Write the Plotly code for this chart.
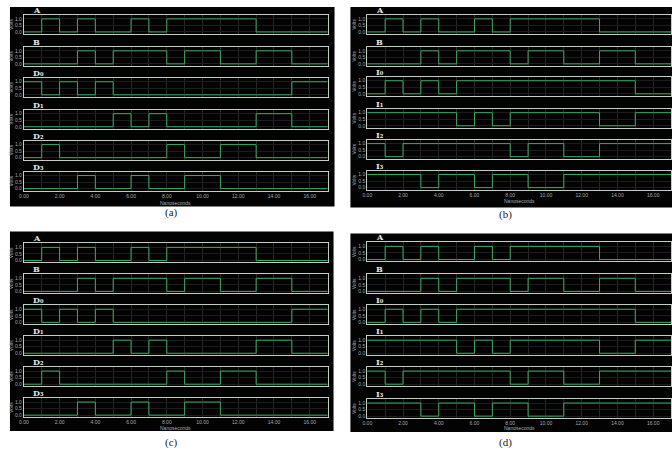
import plotly.graph_objects as go

# time boundaries (ns) of each 1-ns interval
time_ns = list(range(18))
x_ticks = [0, 2, 4, 6, 8, 10, 12, 14, 16]
x_tick_labels = ["0.00", "2.00", "4.00", "6.00", "8.00", "10.00", "12.00", "14.00", "16.00"]
y_ticks = [0, 0.5, 1.0]
y_tick_labels = ["0.0", "0.5", "1.0"]

# logic levels per 1-ns interval (0-1, 1-2, ..., 16-17)
A_bits = [0, 1, 0, 1, 0, 0, 1, 0, 1, 1, 1, 1, 1, 0, 0, 0, 0]
B_bits = [0, 0, 0, 1, 0, 1, 1, 1, 0, 1, 1, 0, 0, 1, 1, 0, 0]
D0_bits = [1, 0, 1, 0, 1, 0, 0, 0, 0, 0, 0, 0, 0, 0, 0, 1, 1]
D1_bits = [0, 0, 0, 0, 0, 1, 0, 1, 0, 0, 0, 0, 0, 1, 1, 0, 0]
D2_bits = [0, 1, 0, 0, 0, 0, 0, 0, 1, 0, 0, 1, 1, 0, 0, 0, 0]
D3_bits = [0, 0, 0, 1, 0, 0, 1, 0, 0, 1, 1, 0, 0, 0, 0, 0, 0]
I0_bits = [0, 1, 0, 1, 0, 1, 1, 1, 1, 1, 1, 1, 1, 1, 1, 0, 0]
I1_bits = [1, 1, 1, 1, 1, 0, 1, 0, 1, 1, 1, 1, 1, 0, 0, 1, 1]
I2_bits = [1, 0, 1, 1, 1, 1, 1, 1, 0, 1, 1, 0, 0, 1, 1, 1, 1]
I3_bits = [1, 1, 1, 0, 1, 1, 0, 1, 1, 0, 0, 1, 1, 1, 1, 1, 1]

labels_D = ["A", "B", "D₀", "D₁", "D₂", "D₃"]
labels_I = ["A", "B", "I₀", "I₁", "I₂", "I₃"]
series_D = [A_bits, B_bits, D0_bits, D1_bits, D2_bits, D3_bits]
series_I = [A_bits, B_bits, I0_bits, I1_bits, I2_bits, I3_bits]
captions = ["(a)", "(b)", "(c)", "(d)"]

W, H = 672, 450
GREEN = "#3fa862"
FRAME = "#c4ccc4"
GRID = "#262626"
TXT = "#a8a8a8"

panels = [
    dict(cap=captions[0], labels=labels_D, series=series_D, x0=19, x1=325,
         tops=[15, 47, 78, 110, 141, 172], bg=(5, 7, 332, 207), xl=203, capxy=(168, 213)),
    dict(cap=captions[1], labels=labels_I, series=series_I, x0=365, x1=671,
         tops=[15, 47, 77, 109, 140, 171], bg=(348, 7, 672, 208), xl=201, capxy=(504, 215)),
    dict(cap=captions[2], labels=labels_D, series=series_D, x0=19, x1=325,
         tops=[244, 275, 306, 337, 368, 399], bg=(5, 232, 331, 432), xl=429, capxy=(168, 443)),
    dict(cap=captions[3], labels=labels_I, series=series_I, x0=365, x1=671,
         tops=[243, 275, 306, 337, 368, 400], bg=(348, 234, 672, 433), xl=429, capxy=(504, 443)),
]
ROW_H = 19


def px(x):
    return x / W


def py(y):
    return 1 - y / H


fig = go.Figure()
layout = {}
shapes = []
annotations = []
n = 0
for p in panels:
    bx0, by0, bx1, by1 = p["bg"]
    shapes.append(dict(type="rect", xref="paper", yref="paper", x0=px(bx0), x1=px(bx1),
                       y0=py(by1), y1=py(by0), fillcolor="#030303", line=dict(width=0), layer="below"))
    for r, (lab, bits) in enumerate(zip(p["labels"], p["series"])):
        n += 1
        sfx = "" if n == 1 else str(n)
        top = p["tops"][r]
        fig.add_trace(go.Scatter(x=time_ns, y=bits + [bits[-1]], mode="lines",
                                 line=dict(color=GREEN, width=1, shape="hv"),
                                 xaxis="x" + sfx, yaxis="y" + sfx, showlegend=False,
                                 hoverinfo="skip"))
        last = r == 5
        layout["xaxis" + sfx] = dict(
            domain=[px(p["x0"]), px(p["x1"])], range=[0, 17], anchor="y" + sfx,
            tickvals=x_ticks, ticktext=x_tick_labels, showticklabels=last,
            tickfont=dict(size=5, color=TXT, family="Liberation Sans"),
            ticks="", showline=True, mirror=True, linecolor=FRAME, linewidth=1,
            showgrid=True, gridcolor=GRID, gridwidth=1, zeroline=False,
            minor=dict(dtick=1, tick0=0, showgrid=True, gridcolor=GRID, gridwidth=1),
        )
        layout["yaxis" + sfx] = dict(
            domain=[py(top + ROW_H), py(top)], range=[-0.15, 1.3], anchor="x" + sfx,
            tickvals=y_ticks, ticktext=y_tick_labels,
            tickfont=dict(size=5, color=TXT, family="Liberation Sans"),
            ticks="", showline=True, mirror=True, linecolor=FRAME, linewidth=1,
            showgrid=True, gridcolor="#1c1c1c", zeroline=False,
            title=dict(text="Volts", font=dict(size=5, color=TXT, family="Liberation Sans"),
                       standoff=1),
        )
        annotations.append(dict(text=lab, xref="paper", yref="paper",
                                x=px(p["x0"] + 7), y=py(top - 5), xanchor="left", yanchor="middle",
                                showarrow=False,
                                font=dict(size=8, color="#e8e8e8", weight="bold",
                                          family="DejaVu Serif, Liberation Serif")))
    annotations.append(dict(text="Nanoseconds", xref="paper", yref="paper",
                            x=px((p["x0"] + p["x1"]) / 2), y=py(p["xl"]), showarrow=False,
                            xanchor="center", yanchor="middle",
                            font=dict(size=5, color=TXT, family="Liberation Sans")))
    cx, cy = p["capxy"]
    annotations.append(dict(text=p["cap"], xref="paper", yref="paper", x=px(cx), y=py(cy),
                            showarrow=False, xanchor="center", yanchor="middle",
                            font=dict(size=11, color="#222222", family="Liberation Serif")))

fig.update_layout(**layout)
fig.update_layout(width=W, height=H, margin=dict(l=0, r=0, t=0, b=0),
                  paper_bgcolor="white", plot_bgcolor="#050505",
                  shapes=shapes, annotations=annotations, showlegend=False)
fig.write_html("out.html", config={"displayModeBar": False, "staticPlot": True},
               post_script="document.body.style.margin='0';document.body.style.padding='0';"
                           "document.body.style.overflow='hidden';")
